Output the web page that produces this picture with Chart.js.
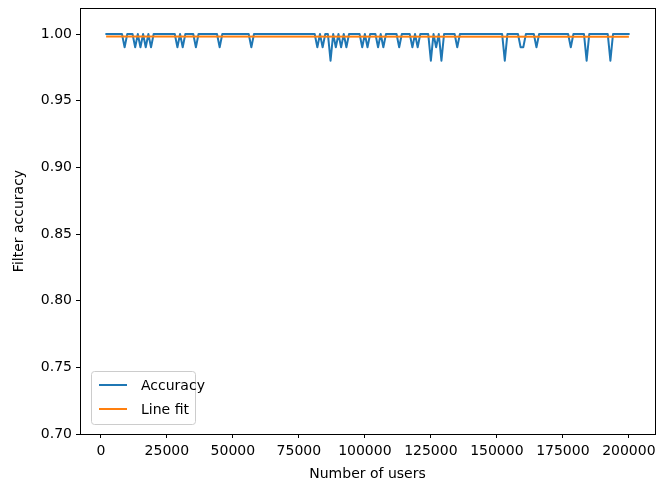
<!DOCTYPE html>
<html>
<head>
<meta charset="utf-8">
<script src="https://cdn.jsdelivr.net/npm/chart.js@4.4.1/dist/chart.umd.min.js"></script>
<style>
    html, body { margin: 0; padding: 0; background: #fff; }
    #wrap { width: 659px; height: 486px; }
</style>
</head>
<body>
<div id="wrap"><canvas id="chart" width="659" height="486"></canvas></div>
<script>
// number of users, one sample every 1000
const userCounts = [
    2000, 3000, 4000, 5000, 6000, 7000, 8000, 9000, 10000, 11000,
    12000, 13000, 14000, 15000, 16000, 17000, 18000, 19000, 20000, 21000,
    22000, 23000, 24000, 25000, 26000, 27000, 28000, 29000, 30000, 31000,
    32000, 33000, 34000, 35000, 36000, 37000, 38000, 39000, 40000, 41000,
    42000, 43000, 44000, 45000, 46000, 47000, 48000, 49000, 50000, 51000,
    52000, 53000, 54000, 55000, 56000, 57000, 58000, 59000, 60000, 61000,
    62000, 63000, 64000, 65000, 66000, 67000, 68000, 69000, 70000, 71000,
    72000, 73000, 74000, 75000, 76000, 77000, 78000, 79000, 80000, 81000,
    82000, 83000, 84000, 85000, 86000, 87000, 88000, 89000, 90000, 91000,
    92000, 93000, 94000, 95000, 96000, 97000, 98000, 99000, 100000, 101000,
    102000, 103000, 104000, 105000, 106000, 107000, 108000, 109000, 110000, 111000,
    112000, 113000, 114000, 115000, 116000, 117000, 118000, 119000, 120000, 121000,
    122000, 123000, 124000, 125000, 126000, 127000, 128000, 129000, 130000, 131000,
    132000, 133000, 134000, 135000, 136000, 137000, 138000, 139000, 140000, 141000,
    142000, 143000, 144000, 145000, 146000, 147000, 148000, 149000, 150000, 151000,
    152000, 153000, 154000, 155000, 156000, 157000, 158000, 159000, 160000, 161000,
    162000, 163000, 164000, 165000, 166000, 167000, 168000, 169000, 170000, 171000,
    172000, 173000, 174000, 175000, 176000, 177000, 178000, 179000, 180000, 181000,
    182000, 183000, 184000, 185000, 186000, 187000, 188000, 189000, 190000, 191000,
    192000, 193000, 194000, 195000, 196000, 197000, 198000, 199000, 200000
];

const accuracy = [
    1, 1, 1, 1, 1, 1, 1, .99, 1, 1,
    1, .99, 1, .99, 1, .99, 1, .99, 1, 1,
    1, 1, 1, 1, 1, 1, 1, .99, 1, .99,
    1, 1, 1, 1, .99, 1, 1, 1, 1, 1,
    1, 1, 1, .99, 1, 1, 1, 1, 1, 1,
    1, 1, 1, 1, 1, .99, 1, 1, 1, 1,
    1, 1, 1, 1, 1, 1, 1, 1, 1, 1,
    1, 1, 1, 1, 1, 1, 1, 1, 1, 1,
    .99, 1, .99, 1, 1, .98, 1, .99, 1, .99,
    1, .99, 1, 1, 1, 1, 1, .99, 1, .99,
    1, 1, 1, .99, 1, .99, 1, 1, 1, 1,
    1, .99, 1, 1, 1, 1, .99, 1, .99, 1,
    1, 1, 1, .98, 1, .99, 1, .98, 1, 1,
    1, 1, 1, .99, 1, 1, 1, 1, 1, 1,
    1, 1, 1, 1, 1, 1, 1, 1, 1, 1,
    1, .98, 1, 1, 1, 1, 1, .99, .99, 1,
    1, 1, 1, .99, 1, 1, 1, 1, 1, 1,
    1, 1, 1, 1, 1, 1, .99, 1, 1, 1,
    1, 1, .98, 1, 1, 1, 1, 1, 1, 1,
    1, .98, 1, 1, 1, 1, 1, 1, 1
];

// straight line fit, end points
const fitUsers = [2000, 200000];
const fitValues = [0.9981, 0.9979];

const xTicks = [0, 25000, 50000, 75000, 100000, 125000, 150000, 175000, 200000];
const yTicks = [0.70, 0.75, 0.80, 0.85, 0.90, 0.95, 1.00];

const FONT = 'DejaVu Sans';

// top and right spines
const framePlugin = {
    id: 'frame',
    afterDraw(chart) {
        const a = chart.chartArea;
        const ctx = chart.ctx;
        ctx.save();
        ctx.strokeStyle = '#000';
        ctx.lineWidth = 1;
        ctx.strokeRect(Math.round(a.left) + 0.5, Math.round(a.top) + 0.5,
            Math.round(a.right - a.left), Math.round(a.bottom - a.top));
        ctx.restore();
    }
};

// matplotlib-like legend in the lower left corner
const legendPlugin = {
    id: 'innerLegend',
    afterDraw(chart) {
        const a = chart.chartArea;
        const ctx = chart.ctx;
        const items = chart.data.datasets.map(d => ({ label: d.label, color: d.borderColor }));
        const x = a.left + 11, w = 104, h = 53;
        const y = a.bottom - 10 - h;
        ctx.save();
        ctx.fillStyle = 'rgba(255,255,255,0.8)';
        ctx.strokeStyle = '#cccccc';
        ctx.lineWidth = 1;
        ctx.beginPath();
        ctx.roundRect(x + 0.5, y + 0.5, w, h, 3);
        ctx.fill();
        ctx.stroke();
        ctx.font = '14px "' + FONT + '"';
        ctx.textBaseline = 'middle';
        items.forEach((it, i) => {
            const ly = y + 14 + i * 24;
            ctx.strokeStyle = it.color;
            ctx.lineWidth = 2;
            ctx.beginPath();
            ctx.moveTo(x + 8, ly);
            ctx.lineTo(x + 36, ly);
            ctx.stroke();
            ctx.fillStyle = '#000';
            ctx.fillText(it.label, x + 50, ly + 1);
        });
        ctx.restore();
    }
};

const ctx = document.getElementById('chart').getContext('2d');
new Chart(ctx, {
    type: 'line',
    data: {
        datasets: [
            {
                label: 'Accuracy',
                data: userCounts.map((u, i) => ({ x: u, y: accuracy[i] })),
                borderColor: '#1f77b4',
                borderWidth: 2,
                borderJoinStyle: 'round',
                borderCapStyle: 'round',
                pointRadius: 0,
                tension: 0,
                order: 1
            },
            {
                label: 'Line fit',
                data: fitUsers.map((u, i) => ({ x: u, y: fitValues[i] })),
                borderColor: '#ff7f0e',
                borderWidth: 2,
                borderJoinStyle: 'round',
                pointRadius: 0,
                tension: 0,
                order: 0
            }
        ]
    },
    options: {
        responsive: false,
        animation: false,
        layout: { padding: { top: 8, right: 4, left: 0, bottom: 0 } },
        plugins: {
            legend: { display: false },
            tooltip: { enabled: false }
        },
        scales: {
            x: {
                type: 'linear',
                min: -7900,
                max: 209900,
                afterBuildTicks: axis => { axis.ticks = xTicks.map(v => ({ value: v })); },
                afterFit: axis => {
                    axis.height = 52;
                    axis.paddingLeft = 0;
                    axis.paddingRight = 0;
                },
                grid: { drawOnChartArea: false, drawTicks: true, tickLength: 4, color: '#000' },
                border: { display: true, color: '#000', width: 1 },
                ticks: {
                    color: '#000',
                    padding: 5,
                    maxRotation: 0,
                    autoSkip: false,
                    font: { family: FONT, size: 14 },
                    callback: v => String(v)
                },
                title: {
                    display: true,
                    text: 'Number of users',
                    color: '#000',
                    font: { family: FONT, size: 14 },
                    padding: { top: 0, bottom: 3 }
                }
            },
            y: {
                min: 0.70,
                max: 1.0195,
                afterBuildTicks: axis => { axis.ticks = yTicks.map(v => ({ value: v })); },
                afterFit: axis => {
                    axis.width = 80;
                    axis.paddingTop = 0;
                    axis.paddingBottom = 0;
                },
                grid: { drawOnChartArea: false, drawTicks: true, tickLength: 4, color: '#000' },
                border: { display: true, color: '#000', width: 1 },
                ticks: {
                    color: '#000',
                    padding: 4,
                    autoSkip: false,
                    font: { family: FONT, size: 14 },
                    callback: v => v.toFixed(2)
                },
                title: {
                    display: true,
                    text: 'Filter accuracy',
                    color: '#000',
                    font: { family: FONT, size: 14 },
                    padding: { top: 11, bottom: 0 }
                }
            }
        }
    },
    plugins: [framePlugin, legendPlugin]
});
</script>
</body>
</html>
